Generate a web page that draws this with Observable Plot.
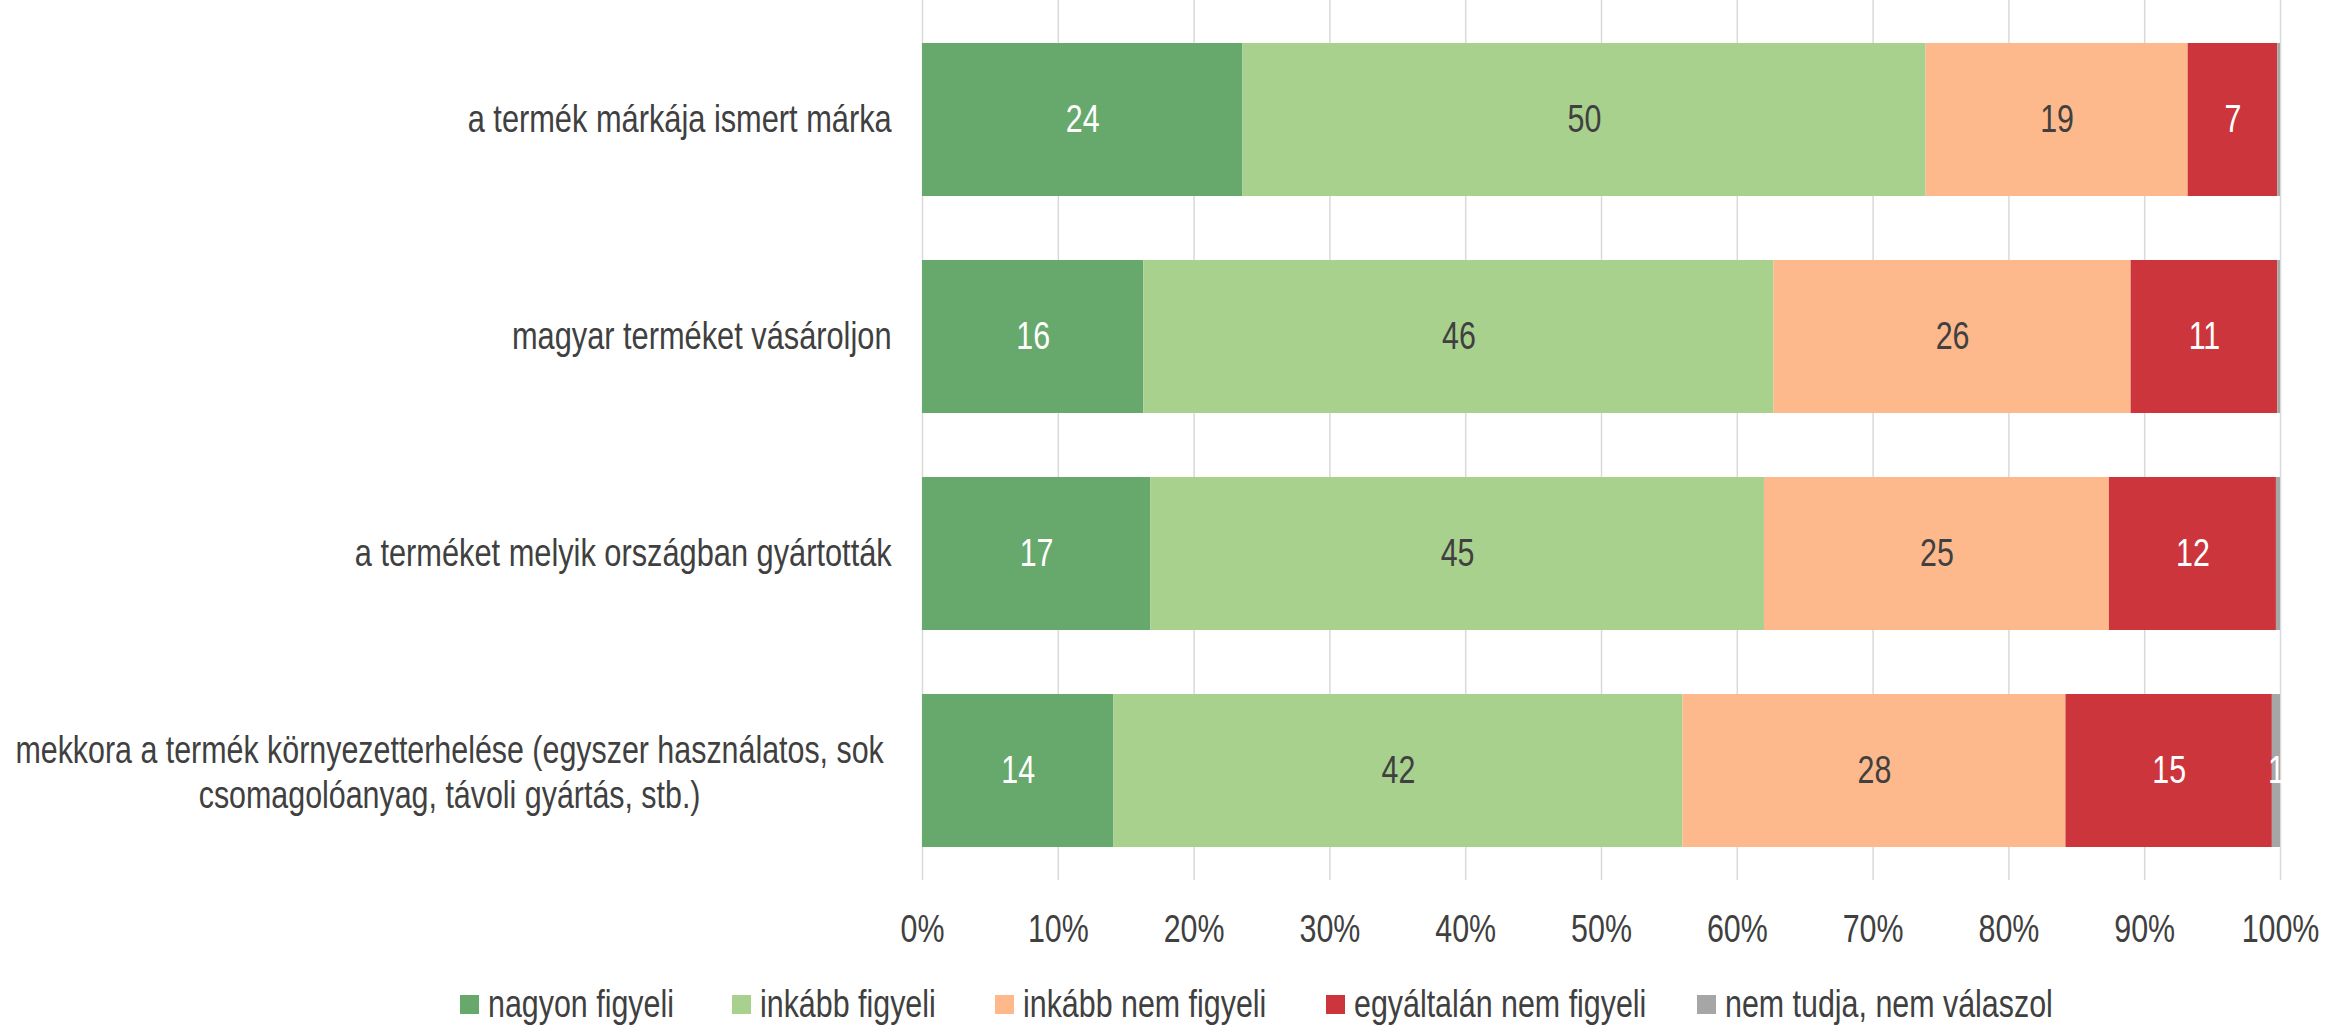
<!DOCTYPE html>
<html>
<head>
<meta charset="utf-8">
<script src="https://cdn.jsdelivr.net/npm/d3@7"></script>
<script src="https://cdn.jsdelivr.net/npm/@observablehq/plot@0.6"></script>
<style>
  html, body { margin: 0; padding: 0; background: #ffffff; }
  body { width: 2325px; height: 1025px; overflow: hidden; position: relative; font-family: "Liberation Sans", Arial, sans-serif; color: #404040; }
  #legend { position: absolute; left: 0; top: 979px; width: 2325px; height: 50px; font-size: 38px; }
  #legend .item { position: absolute; top: 0; height: 50px; display: flex; align-items: center; white-space: nowrap; }
  #legend .sw { width: 19px; height: 19px; margin-right: 9px; flex: none; }
  #legend .lbl { display: inline-block; transform: scaleX(0.8); transform-origin: left center; }
</style>
</head>
<body>
<div id="chart"></div>
<div id="legend"></div>
<script>
const categories = [
  "a termék márkája ismert márka",
  "magyar terméket vásároljon",
  "a terméket melyik országban gyártották",
  "mekkora a termék környezetterhelése (egyszer használatos, sok csomagolóanyag, távoli gyártás, stb.)"
];
const categoryLabels = [
  "a termék márkája ismert márka",
  "magyar terméket vásároljon",
  "a terméket melyik országban gyártották",
  "mekkora a termék környezetterhelése (egyszer használatos, sok\ncsomagolóanyag, távoli gyártás, stb.)"
];
const responses = ["nagyon figyeli", "inkább figyeli", "inkább nem figyeli", "egyáltalán nem figyeli", "nem tudja, nem válaszol"];
const colors = ["#67a86c", "#a9d18e", "#fdb98b", "#cc353b", "#a6a6a6"];
const darkLabelResponses = ["inkább figyeli", "inkább nem figyeli"];

const nagyonFigyeli = [23.6, 16.3, 16.8, 14.1];
const inkabbFigyeli = [50.3, 46.4, 45.2, 41.9];
const inkabbNemFigyeli = [19.3, 26.3, 25.4, 28.2];
const egyaltalanNemFigyeli = [6.6, 10.8, 12.3, 15.2];
const nemTudja = [0.2, 0.2, 0.3, 0.6];

const xTicks = [0, 10, 20, 30, 40, 50, 60, 70, 80, 90, 100];
// legend swatch left edges (px)
const legendX = [460, 732, 995, 1326, 1697];

const series = [nagyonFigyeli, inkabbFigyeli, inkabbNemFigyeli, egyaltalanNemFigyeli, nemTudja];
const data = [];
categories.forEach((cat, i) => {
  responses.forEach((resp, j) => {
    data.push({cat, resp, value: series[j][i]});
  });
});

const FONT = '"Liberation Sans", Arial, sans-serif';
const FS = 38;
const label = d => Math.round(d.value) >= 1 ? String(Math.round(d.value)) : "";

const chart = Plot.plot({
  width: 2325,
  height: 975,
  marginLeft: 922,
  marginRight: 45,
  marginTop: 0,
  marginBottom: 95,
  style: {fontFamily: FONT, fontSize: FS + "px", color: "#404040", background: "#ffffff"},
  x: {domain: [0, 100]},
  y: {domain: categories, paddingInner: 0.295, paddingOuter: 0.175, align: 0.566},
  color: {domain: responses, range: colors},
  marks: [
    Plot.gridX({ticks: xTicks, stroke: "#d9d9d9", strokeOpacity: 1, strokeWidth: 1.5}),
    Plot.barX(data, Plot.stackX({x: "value", y: "cat", fill: "resp", z: "resp"})),
    Plot.text(data, Plot.stackX({
      x: "value", y: "cat", z: "resp",
      text: d => darkLabelResponses.includes(d.resp) ? "" : label(d),
      fill: "white", fontSize: FS
    })),
    Plot.text(data, Plot.stackX({
      x: "value", y: "cat", z: "resp",
      text: d => darkLabelResponses.includes(d.resp) ? label(d) : "",
      fill: "#404040", fontSize: FS
    })),
    Plot.axisX({ticks: xTicks, tickFormat: d => d + "%", tickSize: 0, tickPadding: 35, label: null, fontSize: FS, fill: "#404040"}),
    Plot.axisY({ticks: categories.slice(0, 3), tickFormat: d => categoryLabels[categories.indexOf(d)], tickSize: 0, tickPadding: 31, label: null, fontSize: FS, fill: "#404040"}),
    Plot.axisY({ticks: [categories[3]], tickFormat: d => categoryLabels[categories.indexOf(d)], tickSize: 0, tickPadding: 31, textAnchor: "middle", dx: -442, lineHeight: 1.2, label: null, fontSize: FS, fill: "#404040"})
  ]
});
document.getElementById("chart").appendChild(chart);

// condense the glyphs horizontally about each text's anchor point
const SVGNS = "http://www.w3.org/2000/svg";
Array.from(chart.querySelectorAll("text")).forEach(t => {
  const anchor = getComputedStyle(t).textAnchor;
  const g = document.createElementNS(SVGNS, "g");
  t.parentNode.insertBefore(g, t);
  g.appendChild(t);
  const b = g.getBBox();
  if (!b.width) return;
  const ax = anchor === "end" ? b.x + b.width : anchor === "middle" ? b.x + b.width / 2 : b.x;
  const s = anchor === "end" ? 0.81 : 0.8;
  g.setAttribute("transform", `translate(${ax},0) scale(${s},1) translate(${-ax},0)`);
});

const legend = document.getElementById("legend");
responses.forEach((r, i) => {
  const item = document.createElement("div");
  item.className = "item";
  item.style.left = legendX[i] + "px";
  const sw = document.createElement("div");
  sw.className = "sw";
  sw.style.background = colors[i];
  const t = document.createElement("span");
  t.className = "lbl";
  t.textContent = r;
  item.appendChild(sw);
  item.appendChild(t);
  legend.appendChild(item);
});
</script>
</body>
</html>
